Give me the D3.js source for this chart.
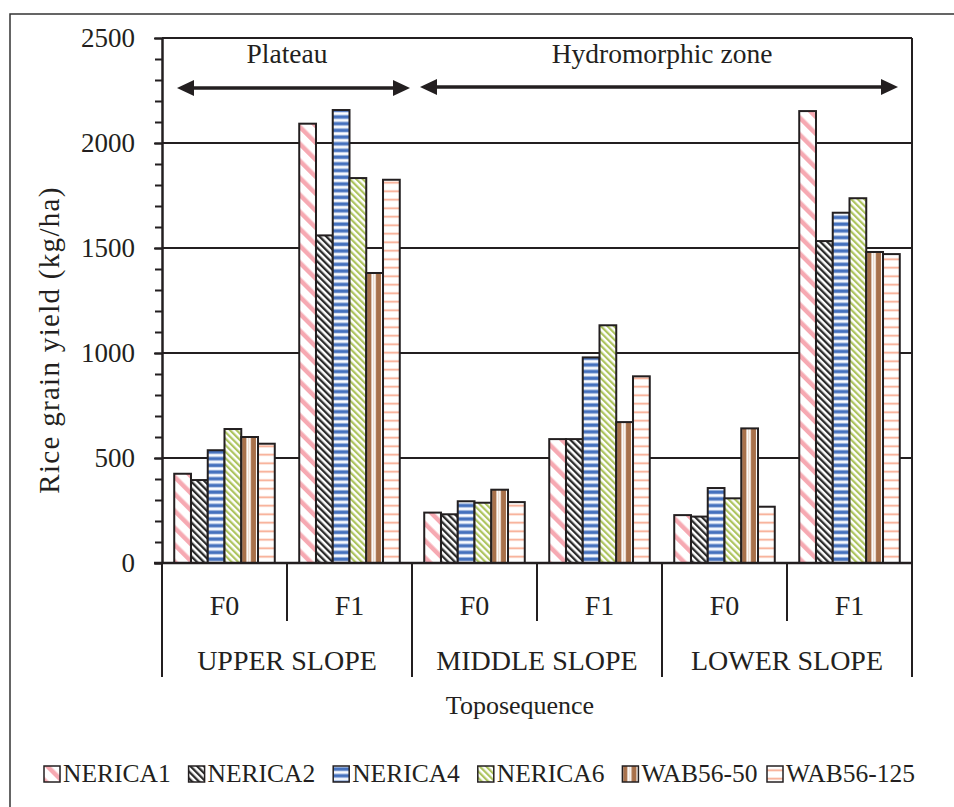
<!DOCTYPE html>
<html>
<head>
<meta charset="utf-8">
<script src="https://cdn.jsdelivr.net/npm/d3@7"></script>
<style>
  body { margin: 0; background: #fff; }
  svg { display: block; }
  text { font-family: "Liberation Serif", "Times New Roman", serif; fill: #231f20; }
</style>
</head>
<body>
<svg id="chart" width="954" height="807"></svg>
<script>
// categories
const varieties = ["NERICA1", "NERICA2", "NERICA4", "NERICA6", "WAB56-50", "WAB56-125"];
const slopes = ["UPPER SLOPE", "MIDDLE SLOPE", "LOWER SLOPE"];
const levels = ["F0", "F1"];
const yTicks = [0, 500, 1000, 1500, 2000, 2500];

// yield (kg/ha), order: upper F0, upper F1, middle F0, middle F1, lower F0, lower F1
const nerica1 = [425, 2092, 240, 590, 228, 2152];
const nerica2 = [395, 1560, 232, 590, 221, 1533];
const nerica4 = [537, 2157, 294, 979, 357, 1668];
const nerica6 = [638, 1833, 287, 1132, 308, 1737];
const wab5650 = [600, 1381, 349, 671, 641, 1481];
const wab56125 = [568, 1825, 290, 889, 268, 1471];

// zones drawn as arrows above the bars (slope index range)
const zones = [
  { name: "Plateau", from: 0, to: 1 },
  { name: "Hydromorphic zone", from: 1, to: 3 }
];

const seriesValues = [nerica1, nerica2, nerica4, nerica6, wab5650, wab56125];
const ink = "#231f20";

const svg = d3.select("#chart");

const groups = slopes.flatMap(s => levels.map(l => s + "|" + l));

const x0 = d3.scaleBand().domain(groups).range([162, 912]).padding(0);
const x1 = d3.scaleBand().domain(varieties).range([0, x0.bandwidth()])
  .paddingInner(0).paddingOuter(0.73);
const y = d3.scaleLinear().domain([0, 2500]).range([563, 38]);

// outer frame (only top/left edges fall inside the picture)
svg.append("rect")
  .attr("x", 10).attr("y", 14).attr("width", 980).attr("height", 840)
  .attr("fill", "none").attr("stroke", "#333").attr("stroke-width", 1.5);

/* fill patterns */
const defs = svg.append("defs");

function stripes(id, size, angle, color, thick) {
  const p = defs.append("pattern")
    .attr("id", id)
    .attr("patternUnits", "userSpaceOnUse")
    .attr("width", size).attr("height", size)
    .attr("patternTransform", "rotate(" + angle + ")");
  p.append("rect").attr("width", size).attr("height", size).attr("fill", "#fff");
  p.append("rect").attr("width", thick).attr("height", size).attr("fill", color);
}
stripes("pat0", 12, -45, "#f6a9b2", 4.5);
stripes("pat1", 4.8, -45, "#2b2b2b", 2.3);
stripes("pat3", 4.6, -45, "#adc45e", 2.2);

// NERICA4: horizontal blue bands
const p2 = defs.append("pattern").attr("id", "pat2")
  .attr("patternUnits", "userSpaceOnUse").attr("width", 10).attr("height", 6.7);
p2.append("rect").attr("width", 10).attr("height", 6.7).attr("fill", "#fff");
p2.append("rect").attr("y", 0.6).attr("width", 10).attr("height", 0.8).attr("fill", "#c9d6ef");
p2.append("rect").attr("y", 1.4).attr("width", 10).attr("height", 3.3).attr("fill", "#4470bd");
p2.append("rect").attr("y", 4.7).attr("width", 10).attr("height", 0.8).attr("fill", "#c9d6ef");

// WAB56-50: vertical brown bands fitted to each bar
const p4 = defs.append("pattern").attr("id", "pat4")
  .attr("patternUnits", "objectBoundingBox")
  .attr("patternContentUnits", "objectBoundingBox")
  .attr("width", 1).attr("height", 1);
p4.append("rect").attr("width", 1).attr("height", 1).attr("fill", "#fff");
p4.append("rect").attr("x", 0.04).attr("width", 0.27).attr("height", 1).attr("fill", "#a8714b");
p4.append("rect").attr("x", 0.42).attr("width", 0.06).attr("height", 1).attr("fill", "#e6cdbb");
p4.append("rect").attr("x", 0.57).attr("width", 0.31).attr("height", 1).attr("fill", "#a8714b");

// WAB56-125: thin salmon lines
const p5 = defs.append("pattern").attr("id", "pat5")
  .attr("patternUnits", "userSpaceOnUse").attr("width", 10).attr("height", 8.5);
p5.append("rect").attr("width", 10).attr("height", 8.5).attr("fill", "#fff");
p5.append("rect").attr("y", 3.4).attr("width", 10).attr("height", 1.7).attr("fill", "#f7a68a");

/* grid */
svg.append("g").selectAll("line")
  .data(yTicks.filter(d => d > 0))
  .enter().append("line")
  .attr("x1", 162).attr("x2", 912)
  .attr("y1", d => y(d)).attr("y2", d => y(d))
  .attr("stroke", ink).attr("stroke-width", 2);

/* bars */
const barLayer = svg.append("g").attr("class", "bars");
groups.forEach((g, gi) => {
  varieties.forEach((v, vi) => {
    const val = seriesValues[vi][gi];
    barLayer.append("rect")
      .attr("x", x0(g) + x1(v))
      .attr("y", y(val))
      .attr("width", x1.bandwidth())
      .attr("height", y(0) - y(val))
      .attr("fill", "url(#pat" + vi + ")")
      .attr("stroke", ink)
      .attr("stroke-width", 2);
  });
});

/* y axis */
const minor = d3.range(0, 2501, 100);
svg.append("g")
  .attr("transform", "translate(162,0)")
  .call(d3.axisLeft(y).tickValues(minor).tickSize(7).tickSizeOuter(0).tickFormat(""))
  .call(g => g.selectAll("line").attr("stroke", ink).attr("stroke-width", 2))
  .call(g => g.select(".domain").remove());

svg.append("g")
  .attr("transform", "translate(162,0)")
  .call(d3.axisLeft(y).tickValues(yTicks).tickSize(8).tickPadding(19)
    .tickSizeOuter(0).tickFormat(d3.format("d")))
  .call(g => g.select(".domain").attr("stroke", ink).attr("stroke-width", 2.5))
  .call(g => g.selectAll("line").attr("stroke", ink).attr("stroke-width", 2))
  .call(g => g.selectAll("text").attr("font-size", 27).attr("fill", ink));

// baseline and right border
svg.append("line")
  .attr("x1", 154).attr("x2", 912).attr("y1", y(0)).attr("y2", y(0))
  .attr("stroke", ink).attr("stroke-width", 2.5);
svg.append("line")
  .attr("x1", 912).attr("x2", 912).attr("y1", y(2500)).attr("y2", y(0))
  .attr("stroke", ink).attr("stroke-width", 2);

/* category axis */
const cat = svg.append("g");
groups.forEach((g, gi) => {
  cat.append("line")
    .attr("x1", x0(g)).attr("x2", x0(g))
    .attr("y1", y(0)).attr("y2", gi % 2 === 0 ? 677 : 621)
    .attr("stroke", ink).attr("stroke-width", 2);
  cat.append("text")
    .attr("x", x0(g) + x0.bandwidth() / 2)
    .attr("y", 615)
    .attr("text-anchor", "middle")
    .attr("font-size", 28)
    .text(g.split("|")[1]);
});
cat.append("line")
  .attr("x1", x0.range()[1]).attr("x2", x0.range()[1])
  .attr("y1", y(0)).attr("y2", 677)
  .attr("stroke", ink).attr("stroke-width", 2);
slopes.forEach((s, si) => {
  cat.append("text")
    .attr("x", x0(s + "|F0") + x0.bandwidth())
    .attr("y", 670)
    .attr("text-anchor", "middle")
    .attr("font-size", 28)
    .text(s);
});
svg.append("text")
  .attr("x", 520).attr("y", 714)
  .attr("text-anchor", "middle")
  .attr("font-size", 26)
  .text("Toposequence");

/* y title */
svg.append("text")
  .attr("transform", "translate(59,340) rotate(-90)")
  .attr("text-anchor", "middle")
  .attr("font-size", 29)
  .attr("letter-spacing", 1.3)
  .text("Rice grain yield (kg/ha)");

/* zone arrows */
function arrowHead(x, yy, dir) {
  const L = 17, W = 8;
  svg.append("path")
    .attr("d", `M${x},${yy} L${x - dir * L},${yy - W} L${x - dir * L},${yy + W} Z`)
    .attr("fill", ink);
}
zones.forEach((z, zi) => {
  const start = x0(slopes[z.from] + "|F0");
  const end = z.to < slopes.length ? x0(slopes[z.to] + "|F0") : x0.range()[1];
  const a = start + (zi === 0 ? 15 : 8);
  const b = end - (zi === 0 ? 2 : 14);
  const ay = zi === 0 ? 88 : 87;
  svg.append("line")
    .attr("x1", a + 10).attr("x2", b - 10).attr("y1", ay).attr("y2", ay)
    .attr("stroke", ink).attr("stroke-width", 3.5);
  arrowHead(a, ay, -1);
  arrowHead(b, ay, 1);
  svg.append("text")
    .attr("x", (start + end) / 2)
    .attr("y", 63)
    .attr("text-anchor", "middle")
    .attr("font-size", 27.5)
    .text(z.name);
});

/* legend */
const legend = svg.append("g").attr("transform", "translate(44,766)");
varieties.forEach((v, i) => {
  const item = legend.append("g").attr("transform", `translate(${i * 144.6},0)`);
  item.append("rect")
    .attr("width", 16).attr("height", 16)
    .attr("fill", "url(#pat" + i + ")")
    .attr("stroke", ink).attr("stroke-width", 1.5);
  item.append("text")
    .attr("x", 19).attr("y", 16)
    .attr("font-size", 25.5)
    .text(v);
});
</script>
</body>
</html>
